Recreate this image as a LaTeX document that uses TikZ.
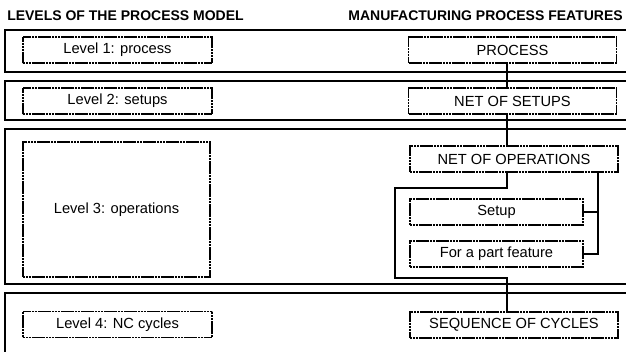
\documentclass[tikz,border=0pt]{standalone}
\usepackage{fontspec}
\setmainfont{Liberation Sans}
\begin{document}
\begin{tikzpicture}[x=0.75pt,y=-0.75pt,
  band/.style={line width=1.5pt},
  featbox/.style={draw, line width=0.95pt, dash pattern=on 1.8pt off 0.35pt,
    fill=white, inner sep=0pt, font=\fontsize{11}{13}\selectfont,
    minimum height=19.5pt},
  levelbox/.style={featbox, minimum width=141.75pt},
  wirebox/.style={featbox, minimum width=156pt},
  subbox/.style={featbox, minimum width=129.75pt},
  wire/.style={line width=1.4pt},
  heading/.style={font=\fontsize{10.5}{12}\selectfont\bfseries, inner sep=0pt}]
\useasboundingbox (0,0) rectangle (626,352);
\clip (0,0) rectangle (626,352);

% headings
\node[heading, anchor=base west] (hleft) at (7,21) {LEVELS OF THE PROCESS MODEL};
\node[heading, anchor=base east] (hright) at (623,21) {MANUFACTURING PROCESS FEATURES};

% level bands, open to the right
\draw[band] (640,30) -- (5,30) -- (5,72) -- (640,72);
\draw[band] (640,81) -- (5,81) -- (5,120) -- (640,120);
\draw[band] (640,129) -- (5,129) -- (5,284) -- (640,284);
\draw[band] (640,293) -- (5,293) -- (5,370);

% trunk and branch positions
\coordinate (trunk) at (507,0);
\coordinate (rb) at (598,0);
\coordinate (jog1) at (395,188);
\coordinate (jog2) at (395,278);

% feature boxes
\node[wirebox] (process) at (512.5,50) {PROCESS};
\node[wirebox] (setups) at (512.5,101) {NET OF SETUPS};
\node[wirebox] (ops) at (514,159) {NET OF OPERATIONS};
\node[subbox] (setup) at (496.5,212) {Setup};
\node[subbox] (part) at (496.5,254) {For a part feature};
\node[wirebox] (seq) at (514,325) {SEQUENCE OF CYCLES};

% connectors between the feature boxes
\draw[wire] (process.south -| trunk) -- (setups.north -| trunk);
\draw[wire] (setups.south -| trunk) -- (ops.north -| trunk);
\draw[wire] (ops.south -| trunk) |- (jog1) -- (jog2) -| (seq.north -| trunk);
\draw[wire] (ops.south -| rb) |- (part.east);
\draw[wire] (setup.east) -- (setup.east -| rb);

% level boxes
\node[levelbox] (l1) at (117.5,50) {Level 1: process};
\node[levelbox] (l2) at (117.5,101) {Level 2: setups};
\node[levelbox, minimum width=140.25pt, minimum height=101.25pt] (l3) at (116.5,209.5) {Level 3: operations};
\node[levelbox] (l4) at (117.5,324.5) {Level 4: NC cycles};
\end{tikzpicture}
\end{document}
